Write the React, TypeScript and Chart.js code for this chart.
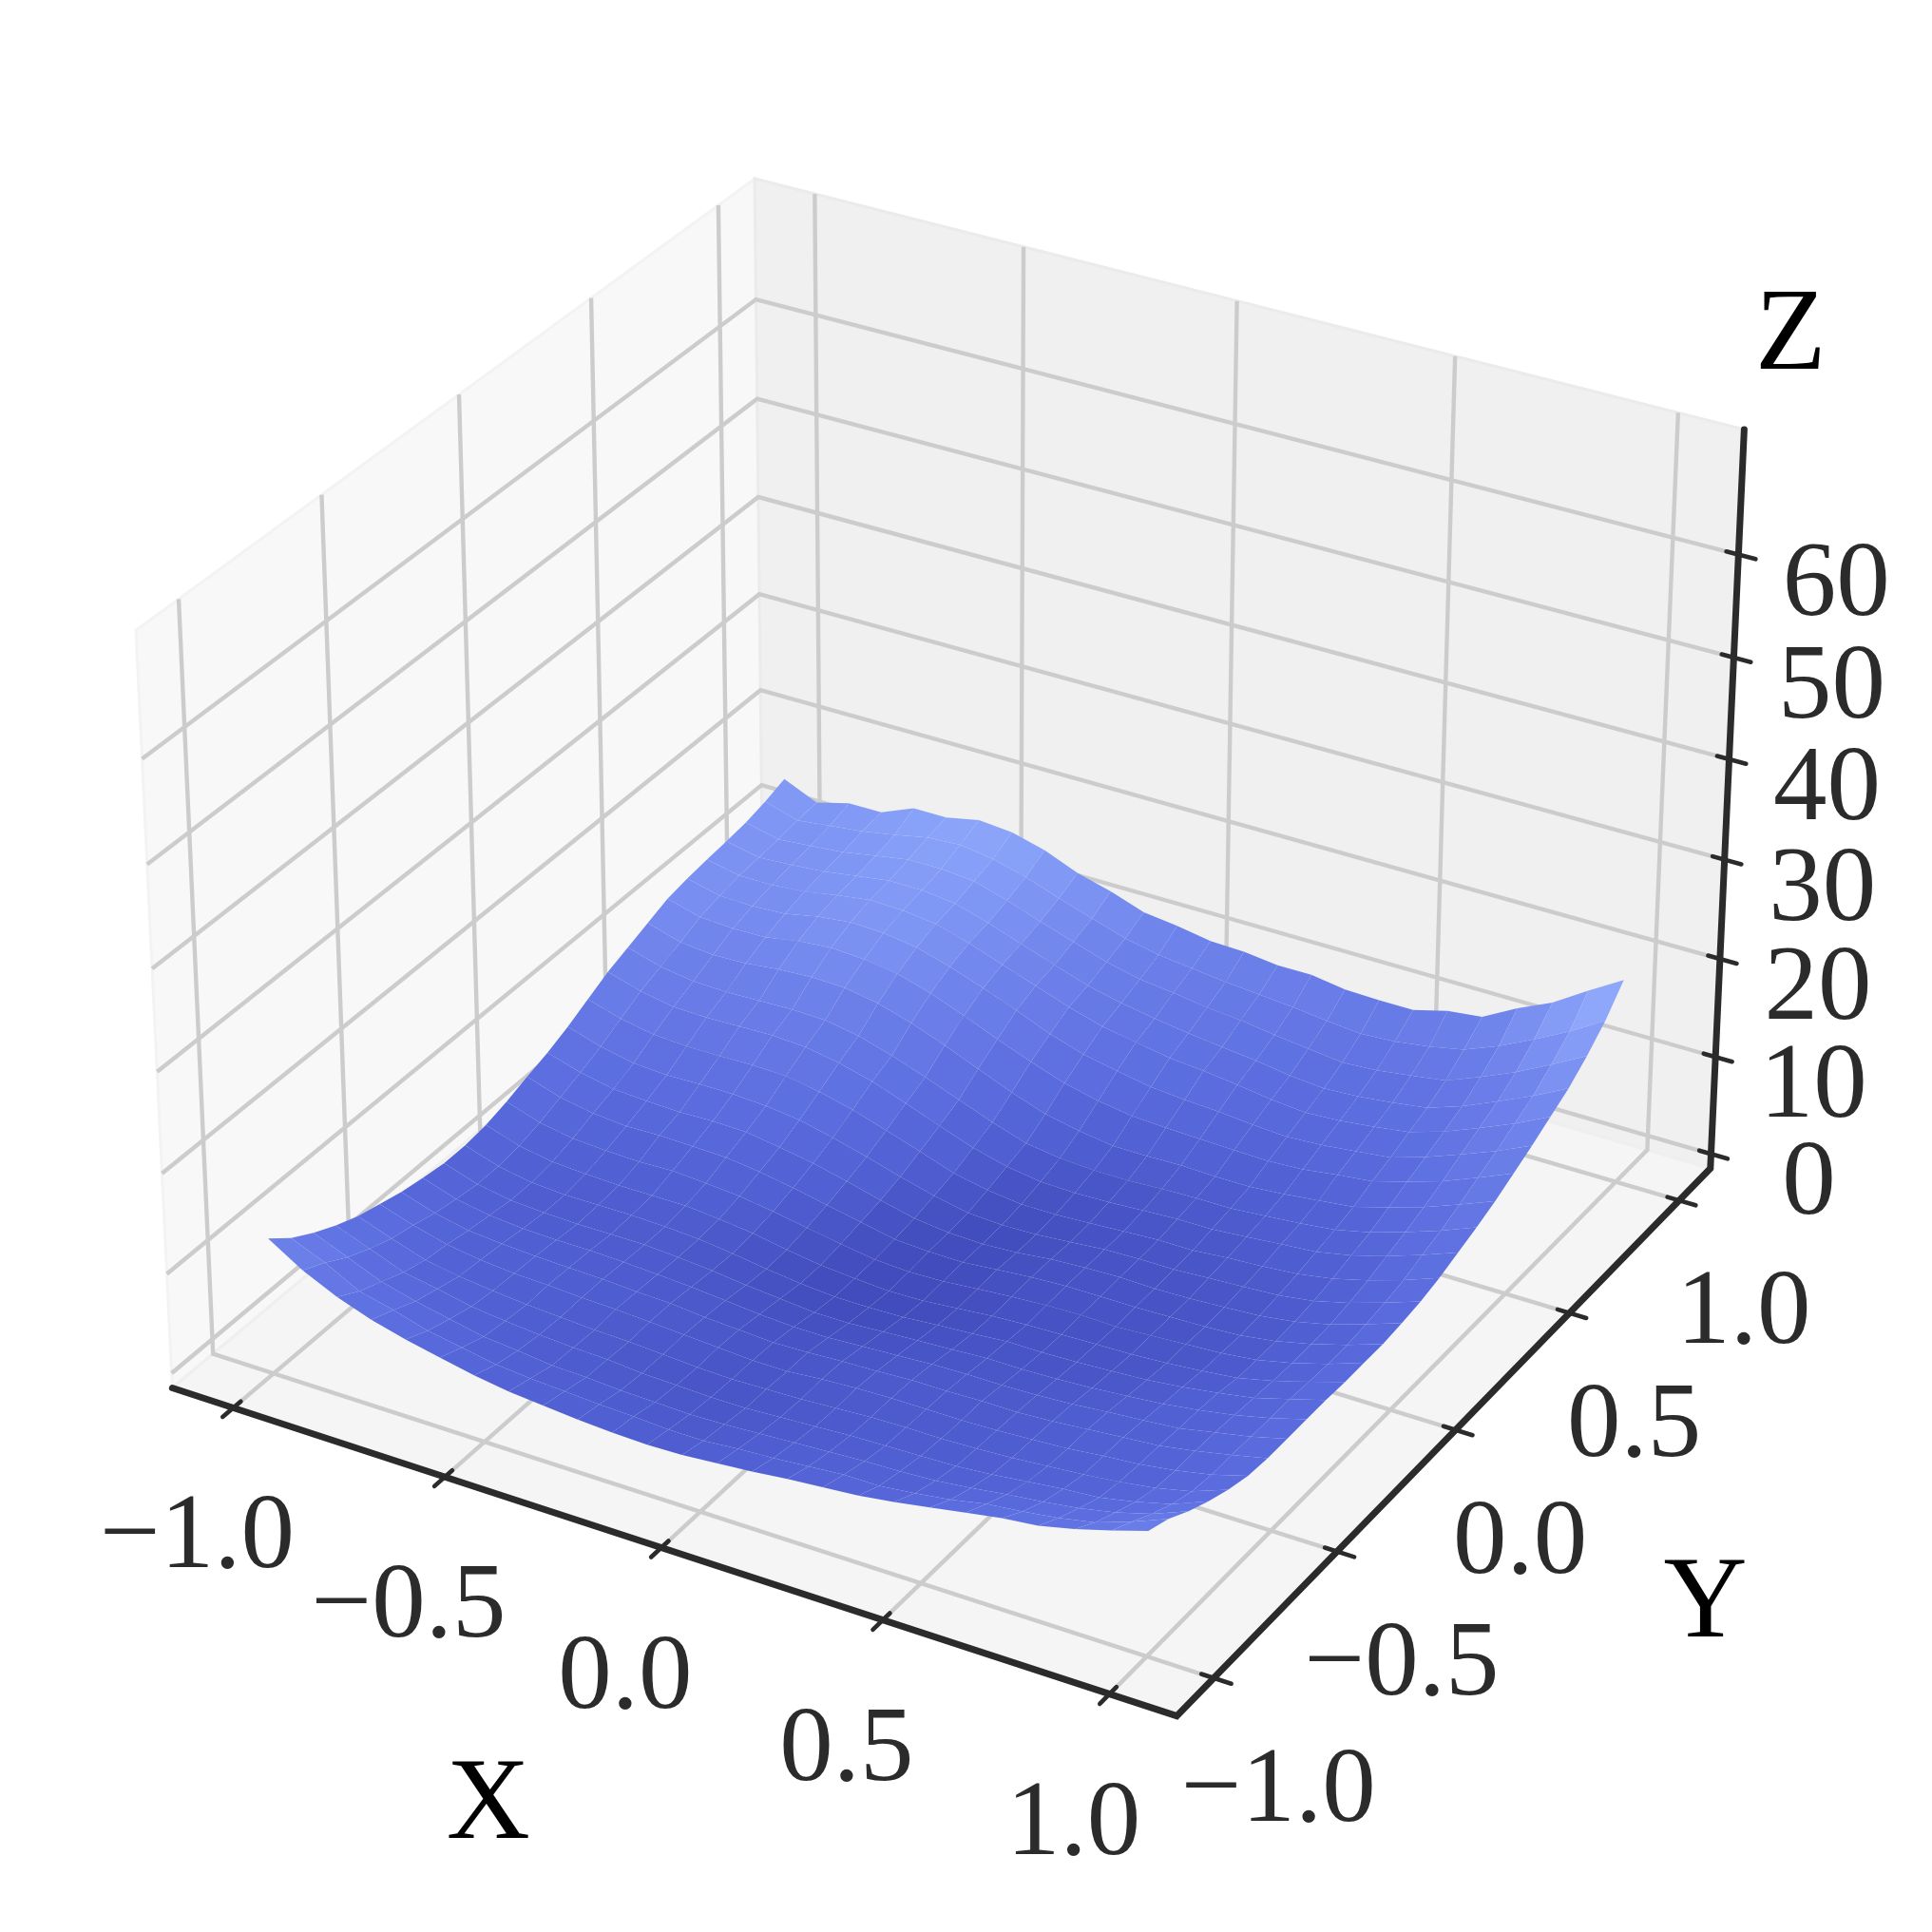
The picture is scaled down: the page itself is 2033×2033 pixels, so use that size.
import { useEffect, useRef } from 'react';
import { Chart, registerables } from 'chart.js';
Chart.register(...registerables);

const tickValuesXY = [-1, -0.5, 0, 0.5, 1];
const tickLabelsXY = ['\u22121.0', '\u22120.5', '0.0', '0.5', '1.0'];
const tickValuesZ = [0, 10, 20, 30, 40, 50, 60];
const gridXY = [-1,-0.92,-0.84,-0.76,-0.68,-0.6,-0.52,-0.44,-0.36,-0.28,-0.2,-0.12,-0.04,0.04,0.12,0.2,0.28,0.36,0.44,0.52,0.6,0.68,0.76,0.84,0.92,1];
const zTable = [
  [12.1,10.0,8.4,7.2,6.3,5.6,4.9,4.4,4.1,3.8,3.6,3.5,3.6,3.9,4.2,4.6,4.9,5.2,5.7,6.3,6.9,7.5,7.9,8.7,9.7,10.8],
  [10.3,8.9,7.1,6.3,5.3,4.7,4.1,3.8,3.6,3.4,3.3,3.1,3.1,3.4,3.6,3.9,4.2,4.2,4.6,5.1,5.8,6.2,6.7,7.4,8.6,10.0],
  [9.0,7.6,6.2,5.3,4.6,3.9,3.6,3.2,3.1,2.9,2.8,2.7,2.8,3.0,3.2,3.4,3.6,3.7,3.9,4.3,4.8,5.2,5.7,6.4,7.4,8.8],
  [7.9,6.6,5.3,4.7,4.0,3.6,3.3,3.1,3.0,2.7,2.6,2.5,2.5,2.7,2.9,3.1,3.2,3.3,3.4,3.7,4.1,4.5,4.8,5.5,6.4,7.8],
  [7.0,5.8,4.7,4.1,3.7,3.4,3.2,3.0,2.9,2.7,2.5,2.4,2.5,2.6,2.8,3.0,3.1,3.1,3.2,3.4,3.7,4.0,4.4,4.9,5.7,7.0],
  [6.4,5.3,4.4,3.9,3.6,3.5,3.3,3.2,3.0,2.8,2.6,2.4,2.4,2.7,2.9,3.0,3.0,3.0,3.1,3.3,3.5,3.9,4.2,4.7,5.4,6.4],
  [5.8,4.7,4.0,3.7,3.5,3.4,3.3,3.1,3.0,2.7,2.5,2.3,2.4,2.6,2.7,2.9,2.9,3.0,3.0,3.2,3.5,3.8,4.1,4.7,5.4,6.2],
  [5.4,4.3,3.7,3.4,3.3,3.3,3.2,3.0,2.8,2.5,2.2,2.0,2.0,2.2,2.4,2.6,2.7,2.7,2.8,3.0,3.3,3.6,3.9,4.6,5.3,6.2],
  [5.1,4.0,3.4,3.2,3.1,3.1,3.1,2.9,2.6,2.2,1.9,1.6,1.6,1.8,2.0,2.2,2.4,2.4,2.5,2.7,3.0,3.3,3.8,4.4,5.2,6.2],
  [5.1,4.0,3.4,3.2,3.2,3.2,3.1,2.9,2.5,2.0,1.6,1.3,1.3,1.4,1.7,1.9,2.2,2.2,2.3,2.5,2.7,3.1,3.6,4.2,5.2,6.2],
  [5.4,4.3,3.7,3.5,3.4,3.4,3.4,3.1,2.7,2.1,1.6,1.3,1.1,1.2,1.5,1.8,2.0,2.1,2.2,2.3,2.5,2.8,3.2,4.0,5.0,6.1],
  [6.0,4.9,4.3,4.1,4.0,4.1,3.9,3.6,3.1,2.5,1.9,1.4,1.2,1.3,1.6,1.9,2.1,2.2,2.1,2.3,2.5,2.7,3.1,3.9,4.9,6.1],
  [6.8,5.7,5.1,4.8,4.9,4.8,4.7,4.3,3.7,3.0,2.3,1.6,1.4,1.4,1.7,2.0,2.2,2.2,2.2,2.3,2.4,2.6,3.1,3.9,4.9,6.1],
  [7.5,6.5,5.8,5.6,5.5,5.6,5.5,5.0,4.4,3.6,2.7,1.9,1.5,1.4,1.6,2.0,2.2,2.3,2.2,2.3,2.5,2.7,3.2,4.0,5.1,6.3],
  [8.4,7.4,6.7,6.5,6.6,6.6,6.4,6.0,5.2,4.3,3.3,2.4,1.7,1.5,1.6,1.9,2.2,2.3,2.3,2.5,2.7,2.9,3.4,4.3,5.4,6.6],
  [9.5,8.5,7.9,7.7,7.7,7.8,7.7,7.1,6.3,5.2,4.1,2.9,2.2,1.8,1.8,2.0,2.2,2.4,2.4,2.7,2.9,3.2,3.8,4.7,5.8,7.1],
  [10.6,9.6,9.0,8.9,9.0,9.1,8.9,8.3,7.4,6.2,4.9,3.7,2.8,2.3,2.2,2.3,2.5,2.7,2.7,3.0,3.3,3.6,4.3,5.3,6.5,7.8],
  [11.4,10.4,9.9,9.8,9.9,10.0,9.9,9.3,8.3,7.1,5.8,4.5,3.4,2.9,2.7,2.7,2.9,3.0,3.0,3.3,3.6,4.0,4.8,5.9,7.1,8.5],
  [12.2,11.2,10.9,11.0,11.4,11.6,11.5,10.9,9.9,8.6,7.2,5.8,4.6,3.9,3.4,3.4,3.5,3.4,3.4,3.7,4.1,4.5,5.5,6.6,7.9,9.3],
  [13.0,12.1,11.9,12.0,12.6,12.9,12.7,12.2,11.2,9.9,8.5,7.2,6.0,5.2,4.7,4.5,4.4,4.3,4.2,4.4,4.9,5.3,6.3,7.4,8.8,10.3],
  [13.4,12.6,12.5,12.7,13.4,13.8,13.7,13.2,12.2,11.0,9.7,8.3,7.2,6.5,5.9,5.6,5.4,5.1,4.9,5.1,5.5,5.9,7.0,8.3,9.7,11.3],
  [13.7,13.0,13.0,13.3,13.9,14.4,14.3,13.9,12.9,11.7,10.5,9.3,8.3,7.7,7.1,6.8,6.4,5.9,5.6,5.8,6.2,6.7,7.8,9.2,10.7,12.4],
  [13.9,13.2,13.4,13.7,14.2,14.7,14.7,14.3,13.3,12.1,10.9,9.8,9.0,8.4,7.9,7.5,7.1,6.6,6.3,6.5,6.9,7.4,8.6,10.1,11.7,13.5],
  [14.2,13.4,13.7,14.0,14.6,15.2,15.2,14.9,13.9,12.7,11.6,10.5,9.7,9.3,8.8,8.5,8.0,7.6,7.2,7.4,7.9,8.4,9.8,11.3,13.1,15.0],
  [14.7,13.7,14.1,14.5,15.1,15.8,16.0,15.5,14.6,13.4,12.3,11.2,10.5,10.1,9.7,9.4,9.1,8.7,8.4,8.6,9.1,9.8,11.2,12.9,14.7,16.8],
  [15.4,13.9,14.8,14.8,16.2,16.2,16.9,16.6,15.7,14.3,13.4,12.2,11.8,11.2,11.1,10.7,10.7,10.2,10.1,10.1,11.0,11.4,13.3,14.9,17.1,19.2],
];

const L = 1.146, zLo = -1.5, zHi = 72;
const SCALE = 10175, TX = 1005.5, TY = 958, SIZE = 2033;
const colorStops: [number, number[]][] = [[1.3,[66,76,188]],[3.5,[80,95,210]],[6,[90,108,222]],[11,[110,130,235]],[15.5,[135,160,248]],[19,[152,178,255]]];

function colorFor(z: number) {
  let k = 0;
  while (k < colorStops.length - 2 && z > colorStops[k + 1][0]) k++;
  const a = colorStops[k], b = colorStops[k + 1];
  const t = Math.max(0, Math.min(1, (z - a[0]) / (b[0] - a[0])));
  const c = a[1].map((v, n) => Math.round(v + (b[1][n] - v) * t));
  return `rgb(${c[0]},${c[1]},${c[2]})`;
}
function project(x: number, y: number, z: number) {
  const wx = x / L * 0.595, wy = y / L * 0.595;
  const wz = (z - (zLo + zHi) / 2) / ((zHi - zLo) / 2) * 0.4465;
  const xv = 0.8660254 * wx + 0.5 * wy;
  const yv = -0.25 * wx + 0.4330127 * wy + 0.8660254 * wz;
  const d = 0.4330127 * wx - 0.75 * wy + 0.5 * wz;
  return { x: xv / (10 - d), y: yv / (10 - d), d };
}
const P = (x: number, y: number, z: number) => { const p = project(x, y, z); return { x: p.x, y: p.y }; };
function line(points: any[], color: string, width: number, cap = 'butt') {
  return { data: points, showLine: true, borderColor: color, borderWidth: width, borderCapStyle: cap, borderJoinStyle: 'miter', pointRadius: 0, fill: false, tension: 0, clip: false };
}
function poly(points: any[], fillColor: string, edge?: string, w = 0) {
  return { data: points, showLine: true, backgroundColor: fillColor, borderColor: edge || fillColor, borderWidth: w, pointRadius: 0, fill: 'shape', tension: 0, clip: false };
}
function buildDatasets() {
  const back: any[] = [];
  back.push(poly([P(-L,-L,zLo),P(-L,L,zLo),P(-L,L,zHi),P(-L,-L,zHi),P(-L,-L,zLo)], '#f8f8f8', '#f3f3f3', 3));
  back.push(poly([P(-L,L,zLo),P(L,L,zLo),P(L,L,zHi),P(-L,L,zHi),P(-L,L,zLo)], '#f0f0f0', '#ebebeb', 3));
  back.push(poly([P(-L,-L,zLo),P(L,-L,zLo),P(L,L,zLo),P(-L,L,zLo),P(-L,-L,zLo)], '#f5f5f5', '#efefef', 3));
  for (const t of tickValuesXY) {
    back.push(line([P(t,-L,zLo),P(t,L,zLo),P(t,L,zHi)], '#cccccc', 4.4));
    back.push(line([P(L,t,zLo),P(-L,t,zLo),P(-L,t,zHi)], '#cccccc', 4.4));
  }
  for (const t of tickValuesZ) back.push(line([P(-L,-L,t),P(-L,L,t),P(L,L,t)], '#cccccc', 4.4));
  const axisC = '#2b2b2b';
  back.push(line([P(-L,-L,zLo),P(L,-L,zLo),P(L,L,zLo),P(L,L,zHi)], axisC, 7, 'round'));
  const tOut = 0.038, tIn = 0.027;
  for (const t of tickValuesXY) {
    back.push(line([P(t,-L+tIn,zLo),P(t,-L-tOut,zLo)], axisC, 4.6, 'round'));
    back.push(line([P(L-tIn,t,zLo),P(L+tOut,t,zLo)], axisC, 4.6, 'round'));
  }
  for (const t of tickValuesZ) back.push(line([P(L-tIn,L,t),P(L+tOut,L,t)], axisC, 4.6, 'round'));
  const quads: any[] = [];
  const N = gridXY.length - 1;
  for (let j = 0; j < N; j++) for (let i = 0; i < N; i++) {
    const c = [[i,j],[i+1,j],[i+1,j+1],[i,j+1]];
    const mean = c.reduce((s, [a, b]) => s + zTable[b][a], 0) / 4;
    const d = c.reduce((s, [a, b]) => s + project(gridXY[a], gridXY[b], zTable[b][a]).d, 0) / 4;
    quads.push({ d, ds: poly(c.map(([a, b]) => P(gridXY[a], gridXY[b], zTable[b][a])), colorFor(mean)) });
  }
  quads.sort((a, b) => a.d - b.d);
  return [...back, ...quads.map(q => q.ds)].reverse();
}
const textPlugin = {
  id: 'labels3d',
  afterDraw(chart: any) {
    const { ctx, scales } = chart;
    const put = (p: any, dx: number, dy: number, s: string, color: string) => {
      ctx.fillStyle = color;
      ctx.fillText(s, scales.x.getPixelForValue(p.x) + dx, scales.y.getPixelForValue(p.y) + dy);
    };
    ctx.save();
    ctx.font = '113px "Liberation Serif"';
    ctx.textAlign = 'center';
    ctx.textBaseline = 'alphabetic';
    const base = 38;
    tickValuesXY.forEach((t, k) => {
      put(P(t,-L,zLo), -38, 130 + base, tickLabelsXY[k], '#2b2b2b');
      put(P(L,t,zLo), 68, 112 + base, tickLabelsXY[k], '#2b2b2b');
    });
    tickValuesZ.forEach(t => put(P(L,L,t), 103, 25 + base, String(t), '#2b2b2b'));
    ctx.font = '122px "Liberation Serif"';
    put(P(0,-L,zLo), -182, 267 + base, 'X', '#000');
    put(P(L,0,zLo), 263, 179 + base, 'Y', '#000');
    put(P(L,L,zHi), 49, -102 + base, 'Z', '#000');
    ctx.restore();
  },
};
export default function App() {
  const ref = useRef<HTMLCanvasElement>(null);
  useEffect(() => {
    const chart = new Chart(ref.current!, {
      type: 'scatter',
      data: { datasets: buildDatasets() },
      options: {
        animation: false, responsive: false, events: [],
        layout: { padding: 0 },
        plugins: { legend: { display: false }, tooltip: { enabled: false } },
        scales: {
          x: { type: 'linear', display: false, min: (0 - TX) / SCALE, max: (SIZE - TX) / SCALE },
          y: { type: 'linear', display: false, min: (TY - SIZE) / SCALE, max: TY / SCALE },
        },
      },
      plugins: [textPlugin],
    } as any);
    return () => chart.destroy();
  }, []);
  return <canvas ref={ref} width={SIZE} height={SIZE} style={{ position: 'fixed', left: 0, top: 0, background: '#fff' }} />;
}
